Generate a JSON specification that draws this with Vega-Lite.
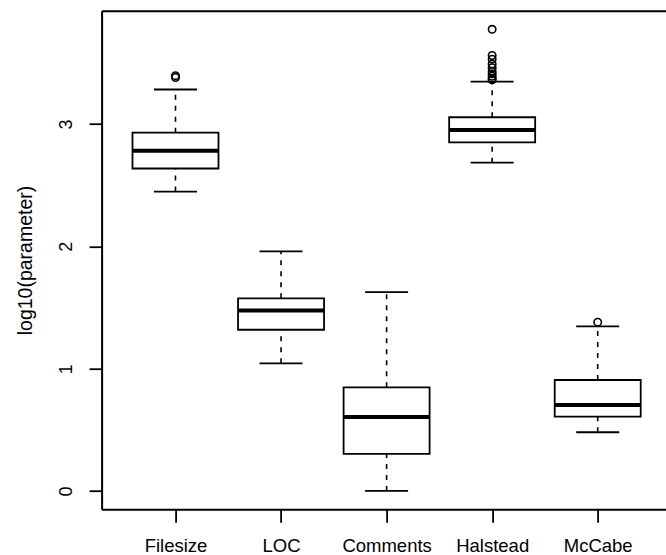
{
  "$schema": "https://vega.github.io/schema/vega-lite/v6.json",
  "autosize": "none",
  "width": 564.4,
  "height": 498.6,
  "padding": {"left": 101.6, "top": 10.7, "right": 0, "bottom": 45.7},
  "background": "white",
  "config": {
    "view": {"stroke": null},
    "font": "Liberation Sans",
    "axis": {"grid": false, "domainColor": "black", "tickColor": "black", "labelColor": "black", "titleColor": "black", "domainWidth": 2, "tickWidth": 1.8}
  },
  "datasets": {
    "boxes": [
      {"name": "Filesize", "lower": 2.447, "q1": 2.636, "median": 2.782, "q3": 2.929, "upper": 3.282},
      {"name": "LOC", "lower": 1.043, "q1": 1.318, "median": 1.476, "q3": 1.575, "upper": 1.958},
      {"name": "Comments", "lower": 0.0, "q1": 0.303, "median": 0.604, "q3": 0.847, "upper": 1.625},
      {"name": "Halstead", "lower": 2.684, "q1": 2.85, "median": 2.951, "q3": 3.055, "upper": 3.346},
      {"name": "McCabe", "lower": 0.48, "q1": 0.607, "median": 0.703, "q3": 0.907, "upper": 1.345}
    ],
    "outliers": [
      {"name": "Filesize", "value": 3.38},
      {"name": "Filesize", "value": 3.395},
      {"name": "Halstead", "value": 3.774},
      {"name": "Halstead", "value": 3.56},
      {"name": "Halstead", "value": 3.53},
      {"name": "Halstead", "value": 3.49},
      {"name": "Halstead", "value": 3.46},
      {"name": "Halstead", "value": 3.43},
      {"name": "Halstead", "value": 3.41},
      {"name": "Halstead", "value": 3.39},
      {"name": "Halstead", "value": 3.37},
      {"name": "Halstead", "value": 3.36},
      {"name": "McCabe", "value": 1.38}
    ]
  },
  "resolve": {"axis": {"x": "independent", "y": "independent"}},
  "layer": [
    {
      "data": {"name": "boxes"},
      "mark": {"type": "rule", "color": "black", "strokeWidth": 1.6, "strokeDash": [5, 6]},
      "encoding": {
        "x": {"field": "name", "type": "nominal", "sort": null,
              "scale": {"type": "point", "domain": ["Filesize", "LOC", "Comments", "Halstead", "McCabe"], "padding": 0.7, "range": [0, 570]},
              "axis": {"orient": "bottom", "title": null, "labelAngle": 0, "labelFontSize": 18.5, "tickSize": 13, "labelPadding": 14, "labelBaseline": "top"}},
        "y": {"field": "q3", "type": "quantitative",
              "scale": {"domain": [-0.15, 3.926], "nice": false, "zero": false},
              "axis": {"orient": "left", "title": "log10(parameter)", "values": [0, 1, 2, 3], "tickSize": 12.5, "labelFontSize": 18, "labelAngle": -90, "labelAlign": "center", "labelBaseline": "middle", "labelPadding": 23, "titleFontSize": 19.5, "titleFontWeight": "normal", "titlePadding": 22}},
        "y2": {"field": "upper"}
      }
    },
    {
      "data": {"name": "boxes"},
      "mark": {"type": "rule", "color": "black", "strokeWidth": 1.6, "strokeDash": [5, 6]},
      "encoding": {
        "x": {"field": "name", "type": "nominal", "sort": null,
              "axis": {"orient": "top", "title": null, "labels": false, "ticks": false, "domain": true}},
        "y": {"field": "lower", "type": "quantitative", "axis": null},
        "y2": {"field": "q1"}
      }
    },
    {
      "data": {"name": "boxes"},
      "mark": {"type": "tick", "color": "black", "size": 43, "thickness": 1.8, "opacity": 1},
      "encoding": {
        "x": {"field": "name", "type": "nominal", "sort": null, "axis": null},
        "y": {"field": "upper", "type": "quantitative", "axis": null}
      }
    },
    {
      "data": {"name": "boxes"},
      "mark": {"type": "tick", "color": "black", "size": 43, "thickness": 1.8, "opacity": 1},
      "encoding": {
        "x": {"field": "name", "type": "nominal", "sort": null, "axis": null},
        "y": {"field": "lower", "type": "quantitative", "axis": null}
      }
    },
    {
      "data": {"name": "boxes"},
      "mark": {"type": "bar", "fill": "white", "stroke": "black", "strokeWidth": 1.8, "size": 86},
      "encoding": {
        "x": {"field": "name", "type": "nominal", "sort": null, "axis": null},
        "y": {"field": "q1", "type": "quantitative", "axis": null},
        "y2": {"field": "q3"}
      }
    },
    {
      "data": {"name": "boxes"},
      "mark": {"type": "tick", "color": "black", "size": 86, "thickness": 4, "opacity": 1},
      "encoding": {
        "x": {"field": "name", "type": "nominal", "sort": null, "axis": null},
        "y": {"field": "median", "type": "quantitative", "axis": null}
      }
    },
    {
      "data": {"name": "outliers"},
      "mark": {"type": "point", "shape": "circle", "filled": false, "color": "black", "strokeWidth": 1.6, "size": 55, "opacity": 1},
      "encoding": {
        "x": {"field": "name", "type": "nominal", "sort": null, "axis": null},
        "y": {"field": "value", "type": "quantitative", "axis": null}
      }
    }
  ]
}
